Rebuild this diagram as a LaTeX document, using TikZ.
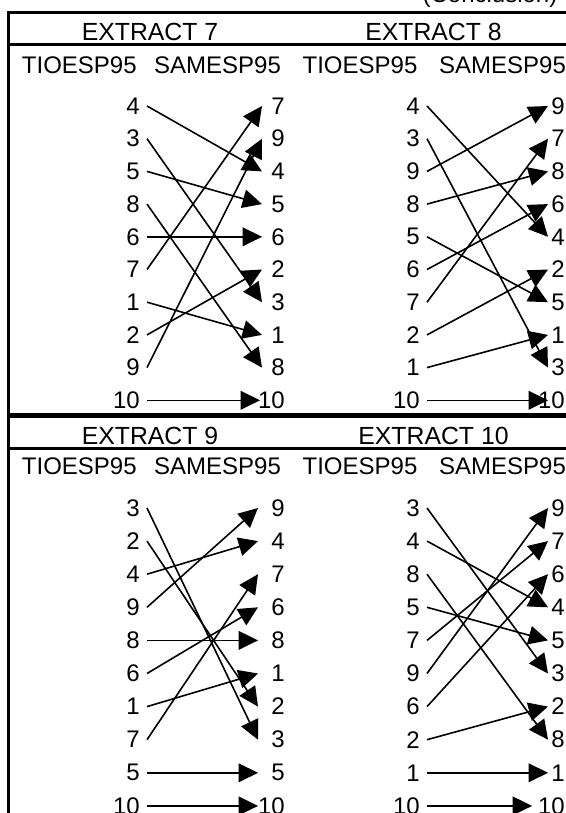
\documentclass[tikz,border=0pt]{standalone}
\usepackage{fontspec}
\setmainfont{Liberation Sans}
\usetikzlibrary{arrows.meta}
\begin{document}
\begin{tikzpicture}[x=0.75pt,y=-0.75pt,
  txt/.style={font=\fontsize{18}{21}\selectfont, inner sep=0},
  hdr/.style={font=\fontsize{18.6}{22}\selectfont, inner sep=0},
  lnum/.style={txt, anchor=east},
  rnum/.style={txt, anchor=east},
  arr/.style={line width=1.2pt, -{Triangle[length=14.5pt,width=14pt]}},
  frame/.style={line width=2.25pt},
  midframe/.style={line width=3.75pt}]
\useasboundingbox (0,0) rectangle (566,813);
\clip (0,0) rectangle (566,813);
% #1 name, #2 xL, #3 xR, #4 tip gap (pt), #5 y0, #6 dy, #7 left list, #8 right list, #9 extra style for row 10
\newcommand\drawpanel[9]{%
  \foreach \v [count=\i] in {#7} {
    \node[lnum] (#1L\v) at (#2, {#5+(\i-1)*#6}) {\v};
  }
  \foreach \v [count=\i] in {#8} {
    \node[rnum] (#1R\v) at (#3, {#5+(\i-1)*#6}) {\v};
  }
  \foreach \v in {1,...,9} {
    \draw[arr] ([xshift=5.25pt]#1L\v.east) -- ([xshift=-#4]#1R\v.east);
  }
  \draw[arr,#9] ([xshift=5.25pt]#1L10.east) -- ([xshift=-#4]#1R10.east);
}
% frame
\draw[frame] (7,13) -- (566,13);
\draw[frame] (8.5,12) -- (8.5,813);
\draw[frame] (8.5,45) -- (566,45);
\draw[midframe] (8.5,415.5) -- (566,415.5);
\draw[frame] (8.5,448) -- (566,448);
% titles
\node[txt, anchor=base] (concl) at (490,3) {(Conclusion)};
\node[hdr] (h7) at (150,31.5) {EXTRACT 7};
\node[hdr] (h8) at (433.5,31.5) {EXTRACT 8};
\node[hdr] (h9) at (150,436) {EXTRACT 9};
\node[hdr] (h10) at (433.5,436) {EXTRACT 10};
\foreach \yy/\k in {65/a,466/b} {
  \node[txt] (t1\k) at (79.3,\yy) {TIOESP95};
  \node[txt] (s1\k) at (217.5,\yy) {SAMESP95};
  \node[txt] (t2\k) at (360,\yy) {TIOESP95};
  \node[txt] (s2\k) at (502.5,\yy) {SAMESP95};
}
% panels
\drawpanel{A}{140}{285}{17.25pt}{106}{32.7}{4,3,5,8,6,7,1,2,9,10}{7,9,4,5,6,2,3,1,8,10}{shorten >=1.5pt}
\drawpanel{B}{420}{565}{12.75pt}{106}{32.7}{4,3,9,8,5,6,7,2,1,10}{9,7,8,6,4,2,5,1,3,10}{}
\drawpanel{C}{140}{285}{20.25pt}{508}{33.1}{3,2,4,9,8,6,1,7,5,10}{9,4,7,6,8,1,2,3,5,10}{}
\drawpanel{D}{420}{565}{12.75pt}{508}{33.1}{3,4,8,5,7,9,6,2,1,10}{9,7,6,4,5,3,2,8,1,10}{shorten >=12pt}
\end{tikzpicture}
\end{document}
